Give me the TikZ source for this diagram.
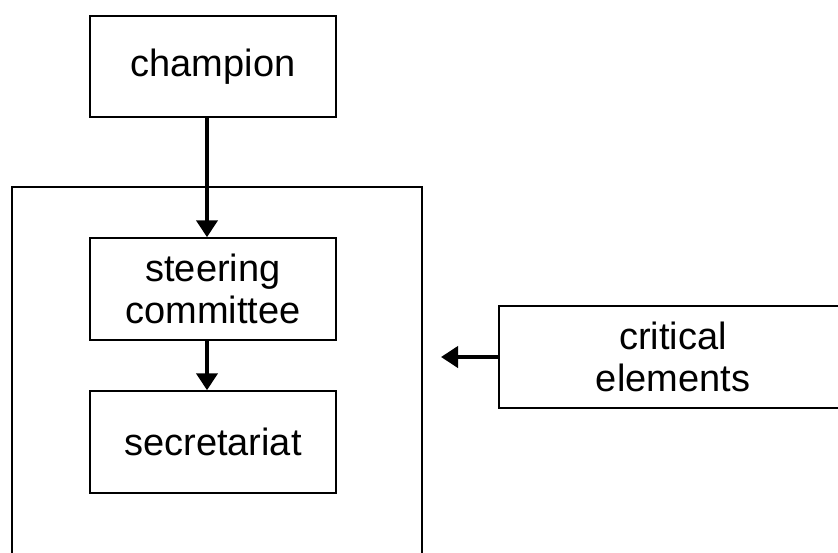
\documentclass[tikz,border=0pt]{standalone}
\usepackage{fontspec}
\setmainfont{Liberation Sans}
\usetikzlibrary{arrows.meta}

\begin{document}
\begin{tikzpicture}
    [x=1pt,y=-1pt,minimum width=246pt,minimum height=102pt,
     font=\fontsize{38}{42}\selectfont,line width=1.5pt,
     box/.style={draw,inner sep=0pt,align=center},
     flow/.style={line width=4pt,-{Triangle[length=17pt,width=21pt]}}]
\useasboundingbox (0,0) rectangle (838,552);
\clip (0,0) rectangle (838,552);
\draw (12,187) rectangle (422,600);
\path
    (213,66.5) node [box,minimum height=101pt] (champion) {champion}
    (213,289) node [box] (steering) {steering\\committee}
    (213,442) node [box] (secretariat) {secretariat}
    (673,357) node [box,minimum width=348pt] (critical) {critical\\elements};
\coordinate (into) at (441,357);
\draw [flow] ([xshift=-6pt]champion.south) -- ([xshift=-6pt]steering.north);
\draw [flow] ([xshift=-6pt]steering.south) -- ([xshift=-6pt]secretariat.north);
\draw [flow] (critical.west) -- (into);
\end{tikzpicture}
\end{document}
